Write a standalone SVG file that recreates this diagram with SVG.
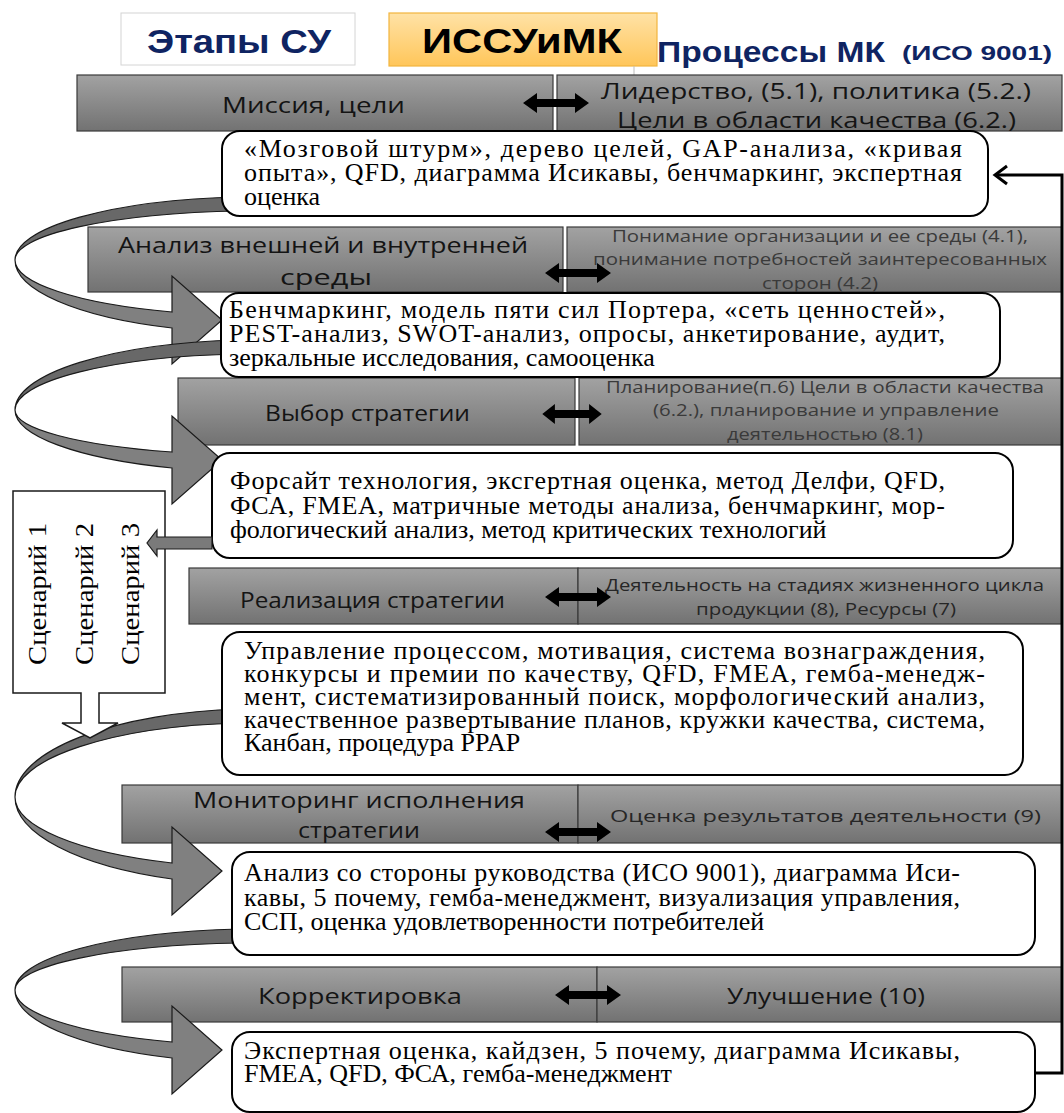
<svg xmlns="http://www.w3.org/2000/svg" width="1064" height="1113" viewBox="0 0 1064 1113">
<defs>
<linearGradient id="gBand" x1="0" y1="0" x2="0" y2="1">
<stop offset="0" stop-color="#a2a2a2"/>
<stop offset="1" stop-color="#727272"/>
</linearGradient>
<linearGradient id="gOrange" x1="0" y1="0" x2="0" y2="1">
<stop offset="0" stop-color="#ffe2a6"/>
<stop offset="1" stop-color="#ffc65a"/>
</linearGradient>
<path id="dbl" d="M-33,0 L-19,-10 L-19,-4 L19,-4 L19,-10 L33,0 L19,10 L19,4 L-19,4 L-19,10 Z"/>
<style>
.band{fill:url(#gBand);stroke:#3a3a3a;stroke-width:1.2}
.box{fill:#fff;stroke:#000;stroke-width:2}
.bt{font-family:"Liberation Serif","Times New Roman",serif;font-size:26px;fill:#000}
.lt{font-family:"Open Sans","Liberation Sans",sans-serif;font-size:22px;fill:#141414}
.rt{font-family:"Open Sans","Liberation Sans",sans-serif;font-size:16px;fill:#3a3a3a}
.rt2{font-family:"Open Sans","Liberation Sans",sans-serif;font-size:17px;fill:#262626}
.hd{font-family:"Liberation Sans",Arial,sans-serif;font-weight:bold}
.rib1{fill:#686868;stroke:#1a1a1a;stroke-width:1.2}
.rib2{fill:#808080;stroke:#1a1a1a;stroke-width:1.2}
.dbl{fill:#000}
.fb{fill:none;stroke:#000;stroke-width:3}
</style>
</defs>

<g id="header">
<rect x="121" y="13" width="234" height="52" fill="#fff" stroke="#d4d4d4" stroke-width="1"/>
<text class="hd" x="147" y="53" font-size="34" fill="#0f2462" textLength="184" lengthAdjust="spacingAndGlyphs">Этапы СУ</text>
<rect x="389" y="13" width="268" height="53" fill="url(#gOrange)" stroke="#f2b53e" stroke-width="1.2"/>
<text class="hd" x="422" y="53" font-size="35" fill="#000" textLength="200" lengthAdjust="spacingAndGlyphs">ИССУиМК</text>
<text class="hd" x="657" y="62" font-size="29" fill="#0f2462" textLength="228" lengthAdjust="spacingAndGlyphs">Процессы МК</text>
<text class="hd" x="902" y="60" font-size="21" fill="#0f2462" textLength="150" lengthAdjust="spacingAndGlyphs">(ИСО 9001)</text>
<line x1="634" y1="66" x2="634" y2="75" stroke="#bdbdbd" stroke-width="1"/>
</g>

<g id="band-mission">
<rect class="band" x="77" y="75" width="476" height="56"/>
<rect class="band" x="557" y="75" width="505" height="56"/>
<text class="lt" x="222" y="113" font-size="23" textLength="183" lengthAdjust="spacingAndGlyphs">Миссия, цели</text>
<text class="lt" x="601" y="99" font-size="23" textLength="430" lengthAdjust="spacingAndGlyphs">Лидерство, (5.1), политика (5.2.)</text>
<text class="lt" x="617" y="128" font-size="23" textLength="399" lengthAdjust="spacingAndGlyphs">Цели в области качества (6.2.)</text>
</g>

<g id="band-analysis">
<rect class="band" x="88" y="227" width="475" height="65"/>
<rect class="band" x="567" y="227" width="495" height="65"/>
<text class="lt" x="118" y="253" textLength="410" lengthAdjust="spacingAndGlyphs">Анализ внешней и внутренней</text>
<text class="lt" x="280" y="285" textLength="92" lengthAdjust="spacingAndGlyphs">среды</text>
<text class="rt" x="612" y="242" textLength="416" lengthAdjust="spacingAndGlyphs">Понимание организации и ее среды (4.1),</text>
<text class="rt" x="593" y="265" textLength="454" lengthAdjust="spacingAndGlyphs">понимание потребностей заинтересованных</text>
<text class="rt" x="762" y="289" textLength="116" lengthAdjust="spacingAndGlyphs">сторон (4.2)</text>
</g>

<g id="band-choice">
<rect class="band" x="178" y="378" width="397" height="67"/>
<rect class="band" x="579" y="378" width="483" height="67"/>
<text class="lt" x="265" y="421" textLength="205" lengthAdjust="spacingAndGlyphs">Выбор стратегии</text>
<text class="rt" x="606" y="393" textLength="438" lengthAdjust="spacingAndGlyphs">Планирование(п.6) Цели в области качества</text>
<text class="rt" x="653" y="416" textLength="346" lengthAdjust="spacingAndGlyphs">(6.2.), планирование и управление</text>
<text class="rt" x="727" y="440" textLength="196" lengthAdjust="spacingAndGlyphs">деятельностью (8.1)</text>
</g>

<g id="band-realization">
<rect class="band" x="189" y="568" width="389" height="56"/>
<rect class="band" x="578" y="568" width="484" height="56"/>
<text class="lt" x="240" y="608" textLength="265" lengthAdjust="spacingAndGlyphs">Реализация стратегии</text>
<text class="rt2" x="605" y="591" textLength="439" lengthAdjust="spacingAndGlyphs">Деятельность на стадиях жизненного цикла</text>
<text class="rt2" x="696" y="615" textLength="260" lengthAdjust="spacingAndGlyphs">продукции (8), Ресурсы (7)</text>
</g>

<g id="band-monitoring">
<rect class="band" x="122" y="785" width="456" height="58"/>
<rect class="band" x="578" y="785" width="484" height="58"/>
<text class="lt" x="193" y="808" textLength="332" lengthAdjust="spacingAndGlyphs">Мониторинг исполнения</text>
<text class="lt" x="298" y="838" textLength="122" lengthAdjust="spacingAndGlyphs">стратегии</text>
<text class="rt2" x="610" y="822" font-size="19" textLength="431" lengthAdjust="spacingAndGlyphs">Оценка результатов деятельности (9)</text>
</g>

<g id="band-correction">
<rect class="band" x="122" y="967" width="475" height="55"/>
<rect class="band" x="597" y="967" width="465" height="55"/>
<text class="lt" x="258" y="1004" textLength="204" lengthAdjust="spacingAndGlyphs">Корректировка</text>
<text class="lt" x="727" y="1004" fill="#262626" textLength="198" lengthAdjust="spacingAndGlyphs">Улучшение (10)</text>
</g>

<g id="connectors">
<path class="rib1" d="M240,197 A245,63.2 0 0 0 15,260 A245,49.1 0 0 1 240,211 Z"/>
<path class="rib2" d="M15,260 A245,72.9 0 0 0 172,328 L172,364 L222,320 L172,276 L172,312 A245,55.7 0 0 1 15,260 Z"/>
<path class="rib1" d="M240,340 A245,70.2 0 0 0 15,410 A245,56.2 0 0 1 240,354 Z"/>
<path class="rib2" d="M15,410 A245,62.2 0 0 0 172,468 L172,504 L222,460 L172,416 L172,452 A245,45.0 0 0 1 15,410 Z"/>
<path class="rib1" d="M240,709 A245,88.3 0 0 0 15,797 A245,74.2 0 0 1 240,723 Z"/>
<path class="rib2" d="M15,797 A245,87.9 0 0 0 172,879 L172,915 L222,871 L172,827 L172,863 A245,70.7 0 0 1 15,797 Z"/>
<path class="rib1" d="M240,929 A245,61.2 0 0 0 15,990 A245,47.1 0 0 1 240,943 Z"/>
<path class="rib2" d="M15,990 A245,72.9 0 0 0 172,1058 L172,1094 L222,1050 L172,1006 L172,1042 A245,55.7 0 0 1 15,990 Z"/>
</g>

<g id="box-mission">
<rect class="box" x="222" y="131" width="766" height="85" rx="18"/>
<text class="bt" x="244" y="157" textLength="718" lengthAdjust="spacing">«Мозговой штурм», дерево целей, GAP-анализа, «кривая</text>
<text class="bt" x="244" y="181" textLength="718" lengthAdjust="spacing">опыта», QFD, диаграмма Исикавы, бенчмаркинг, экспертная</text>
<text class="bt" x="244" y="205">оценка</text>
</g>

<g id="box-analysis">
<rect class="box" x="221" y="293" width="779" height="84" rx="18"/>
<text class="bt" x="229" y="318" textLength="716" lengthAdjust="spacing">Бенчмаркинг, модель пяти сил Портера, «сеть ценностей»,</text>
<text class="bt" x="229" y="342" textLength="716" lengthAdjust="spacing">PEST-анализ, SWOT-анализ, опросы, анкетирование, аудит,</text>
<text class="bt" x="229" y="366">зеркальные исследования, самооценка</text>
</g>

<g id="box-choice">
<rect class="box" x="212" y="453" width="801" height="105" rx="18"/>
<text class="bt" x="230" y="489" textLength="715" lengthAdjust="spacing">Форсайт технология, эксгертная оценка, метод Делфи, QFD,</text>
<text class="bt" x="230" y="514" textLength="715" lengthAdjust="spacing">ФСА, FMEA, матричные методы анализа, бенчмаркинг, мор-</text>
<text class="bt" x="230" y="538">фологический анализ, метод критических технологий</text>
</g>

<g id="box-realization">
<rect class="box" x="222" y="632" width="801" height="143" rx="18"/>
<text class="bt" x="244" y="659" textLength="741" lengthAdjust="spacing">Управление процессом, мотивация, система вознаграждения,</text>
<text class="bt" x="244" y="682" textLength="741" lengthAdjust="spacing">конкурсы и премии по качеству, QFD, FMEA, гемба-менедж-</text>
<text class="bt" x="244" y="705" textLength="741" lengthAdjust="spacing">мент, систематизированный поиск, морфологический анализ,</text>
<text class="bt" x="244" y="728" textLength="741" lengthAdjust="spacing">качественное развертывание планов, кружки качества, система,</text>
<text class="bt" x="244" y="751">Канбан, процедура PPAP</text>
</g>

<g id="box-monitoring">
<rect class="box" x="232" y="852" width="803" height="103" rx="18"/>
<text class="bt" x="244" y="881" textLength="716" lengthAdjust="spacing">Анализ со стороны руководства (ИСО 9001), диаграмма Иси-</text>
<text class="bt" x="244" y="906" textLength="716" lengthAdjust="spacing">кавы, 5 почему, гемба-менеджмент, визуализация управления,</text>
<text class="bt" x="244" y="930">ССП, оценка удовлетворенности потребителей</text>
</g>

<g id="box-correction">
<rect class="box" x="232" y="1032" width="803" height="80" rx="18"/>
<text class="bt" x="244" y="1059" textLength="716" lengthAdjust="spacing">Экспертная оценка, кайдзен, 5 почему, диаграмма Исикавы,</text>
<text class="bt" x="244" y="1082">FMEA, QFD, ФСА, гемба-менеджмент</text>
</g>

<g id="scenarios">
<path d="M13,491 H165 V693 H99 V723 H118 L90,738 L62,723 H81 V693 H13 Z" fill="#fff" stroke="#1a1a1a" stroke-width="1.5"/>
<text class="bt" transform="translate(46,665) rotate(-90)" font-size="30" textLength="142" lengthAdjust="spacingAndGlyphs">Сценарий 1</text>
<text class="bt" transform="translate(93,665) rotate(-90)" font-size="30" textLength="142" lengthAdjust="spacingAndGlyphs">Сценарий 2</text>
<text class="bt" transform="translate(139,665) rotate(-90)" font-size="30" textLength="142" lengthAdjust="spacingAndGlyphs">Сценарий 3</text>
</g>

<g id="links">
<path d="M212,537 H157 V530 L147,543 L157,556 V549 H212 Z" fill="#7a7a7a" stroke="#1a1a1a" stroke-width="1.2"/>
<use href="#dbl" class="dbl" transform="translate(556,103)"/>
<use href="#dbl" class="dbl" transform="translate(578,273)"/>
<use href="#dbl" class="dbl" transform="translate(572,414) scale(0.9,1)"/>
<use href="#dbl" class="dbl" transform="translate(578,597)"/>
<use href="#dbl" class="dbl" transform="translate(578,832)"/>
<use href="#dbl" class="dbl" transform="translate(588,995)"/>
<path class="fb" d="M1035,1073 H1062 V175 H995"/>
<path class="fb" d="M1007,166 L995,175 L1007,184"/>
</g>
</svg>
